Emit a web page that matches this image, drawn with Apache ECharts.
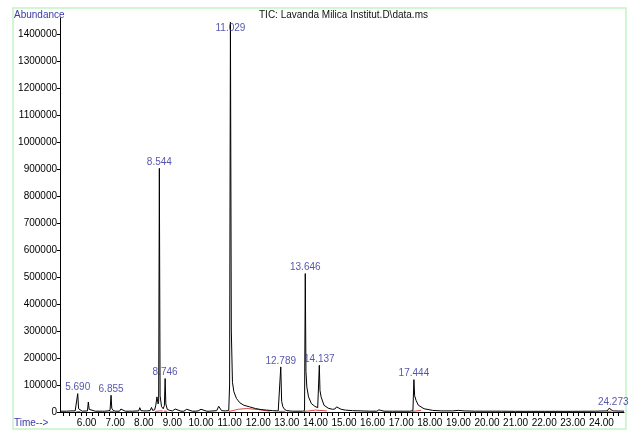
<!DOCTYPE html>
<html>
<head>
<meta charset="utf-8">
<script src="https://cdn.jsdelivr.net/npm/echarts@6/dist/echarts.min.js"></script>
<style>html,body{margin:0;padding:0;background:#fff}#c{width:632px;height:430px}</style>
</head>
<body>
<div id="c"></div>
<script>
// Chromatogram trace: [time (min), abundance]
const trace = [
  [5.07,3000],[5.30,3000],[5.45,4000],[5.48,9000],[5.51,3000],[5.60,4000],
  [5.66,5000],[5.69,68000],[5.72,12000],[5.76,5000],[5.85,3000],
  [6.03,4000],[6.06,37000],[6.09,10000],[6.14,4000],[6.30,3000],
  [6.55,3000],[6.60,6000],[6.63,3000],[6.75,4000],[6.82,6000],
  [6.855,62000],[6.88,14000],[6.93,6000],[7.00,3000],
  [7.15,3000],[7.20,11000],[7.25,5000],[7.35,3000],[7.50,3000],[7.55,5000],[7.60,3000],
  [7.82,4000],[7.86,16000],[7.90,5000],[8.00,4000],[8.05,9000],[8.10,4000],
  [8.22,5000],[8.27,17000],[8.31,6000],[8.38,8000],[8.42,25000],[8.46,56000],
  [8.50,30000],[8.52,40000],[8.544,903000],[8.57,60000],[8.62,20000],[8.68,12000],
  [8.72,25000],[8.746,124000],[8.77,30000],[8.82,10000],[8.90,6000],[9.00,4000],
  [9.05,4000],[9.10,11000],[9.15,4000],[9.30,3000],[9.35,6000],[9.40,3000],
  [9.46,4000],[9.50,10000],[9.55,4000],[9.70,3000],[9.75,6000],[9.80,3000],
  [9.90,4000],[9.96,9000],[10.00,10000],[10.05,4000],[10.20,3000],[10.25,5000],[10.30,3000],
  [10.55,5000],[10.62,21000],[10.66,14000],[10.72,5000],[10.85,4000],[10.97,5000],
  [11.00,100000],[11.029,1444000],[11.06,300000],[11.10,110000],[11.15,75000],
  [11.24,50000],[11.36,34000],[11.50,25000],[11.70,19000],[11.90,13000],[12.10,9000],
  [12.29,7000],[12.50,5000],[12.70,4000],
  [12.75,5000],[12.789,167000],[12.82,40000],[12.86,20000],[12.92,10000],[13.00,5000],
  [13.20,3000],[13.55,3000],[13.62,5000],[13.646,513000],[13.67,150000],[13.70,93000],
  [13.76,56000],[13.86,31000],[13.98,21000],[14.08,16000],[14.11,20000],[14.137,173000],
  [14.16,80000],[14.20,56000],[14.30,25000],[14.45,14000],[14.60,10000],[14.68,11000],
  [14.74,19000],[14.80,15000],[14.90,10000],[15.05,7000],[15.30,5000],[15.60,4000],[15.90,3000],
  [16.15,3000],[16.22,8000],[16.25,12000],[16.29,6000],[16.40,3000],[16.60,3000],[16.65,5000],[16.70,3000],
  [17.30,3000],[17.41,5000],[17.444,120000],[17.47,60000],[17.52,43000],[17.60,25000],
  [17.80,12000],[18.10,6000],[18.40,4000],[18.80,4000],[19.00,6000],[19.20,4000],
  [19.60,3000],[20.50,3000],[21.00,2500],[22.00,2500],[23.00,2500],[23.80,3000],
  [24.20,4000],[24.273,14000],[24.33,8000],[24.40,4000],[24.79,3000]
];
// Integration baselines (red), segments separated by null
const integration = [
  [5.64,1000],[5.78,2000],null,
  [6.80,1000],[6.95,2000],null,
  [8.40,2000],[8.55,4000],[8.66,4000],null,
  [8.70,3000],[8.82,3000],null,
  [10.98,2000],[11.30,10000],[11.60,13000],[12.00,9000],[12.40,3000],null,
  [12.72,2000],[12.95,3000],null,
  [13.60,2000],[14.00,7000],[14.40,4000],null,
  [17.38,2000],[17.70,6000],null,
  [24.20,2000],[24.36,3000]
];
const peakTimes  = [5.690, 6.855, 8.544, 8.746, 11.029, 12.789, 13.646, 14.137, 17.444, 24.273];
const peakHeights= [68000, 62000, 903000, 124000, 1444000, 167000, 513000, 173000, 120000, 14000];
const peakLabels = ['5.690','6.855','8.544','8.746','11.029','12.789','13.646','14.137','17.444','24.273'];
const yTickValues = [0,100000,200000,300000,400000,500000,600000,700000,800000,900000,1000000,1100000,1200000,1300000,1400000];
const xTickValues = [6,7,8,9,10,11,12,13,14,15,16,17,18,19,20,21,22,23,24];
const titleText = 'TIC: Lavanda Milica Institut.D\\data.ms';

const minorTicks = [];
for (let k = 26; k <= 123; k++) minorTicks.push(Math.round(k * 2) / 10);

const FONT = "'Liberation Sans',Arial,sans-serif";
const chart = echarts.init(document.getElementById('c'));
chart.setOption({
  animation: false,
  backgroundColor: '#ffffff',
  grid: { left: 60, right: 8, top: 18, bottom: 18, containLabel: false },
  xAxis: {
    type: 'value', min: 5.07, max: 24.79,
    axisLine: { show: true, onZero: false, lineStyle: { color: '#000', width: 1 } },
    axisTick: { show: true, customValues: minorTicks, length: 4, lineStyle: { color: '#000' } },
    axisLabel: { customValues: xTickValues, formatter: v => v.toFixed(2), color: '#000',
      fontSize: 10, fontFamily: FONT, margin: 6 },
    splitLine: { show: false }
  },
  yAxis: {
    type: 'value', min: 0, max: 1460000,
    axisLine: { show: true, lineStyle: { color: '#000', width: 1 } },
    axisTick: { show: true, customValues: yTickValues, length: 3, lineStyle: { color: '#000' } },
    axisLabel: { customValues: yTickValues, formatter: v => String(v), color: '#000',
      fontSize: 10, fontFamily: FONT, margin: 3 },
    splitLine: { show: false }
  },
  graphic: [
    { type: 'rect', shape: { x: 13, y: 8, width: 613, height: 421 }, style: { fill: 'none', stroke: '#c4f2c4', lineWidth: 1.5 }, silent: true },
    { type: 'text', left: 14, top: 10, style: { text: 'Abundance', fill: '#3a3aa8', font: "10px " + FONT } },
    { type: 'text', left: 14, top: 418, style: { text: 'Time-->', fill: '#3a3aa8', font: "10px " + FONT } },
    { type: 'text', left: 259, top: 10, style: { text: titleText, fill: '#111', font: "10px " + FONT } }
  ],
  series: [
    { type: 'line', data: trace, showSymbol: false, symbol: 'none',
      lineStyle: { color: '#000', width: 1 }, z: 3 },
    { type: 'line', data: integration, showSymbol: false, symbol: 'none', connectNulls: false,
      lineStyle: { color: '#e04848', width: 1 }, z: 2 },
    { type: 'scatter', symbolSize: 0, z: 4,
      data: peakTimes.map((t, i) => {
        const item = { value: [t, peakHeights[i]], name: peakLabels[i] };
        if (i === 4) item.label = { position: 'inside', offset: [0, 6] };
        if (i === 9) item.label = { offset: [4, 0] };
        return item;
      }),
      label: { show: true, position: 'top', distance: 1, formatter: p => p.name,
        color: '#2b2b9c', fontSize: 10, fontFamily: FONT }
    }
  ]
});
</script>
</body>
</html>
